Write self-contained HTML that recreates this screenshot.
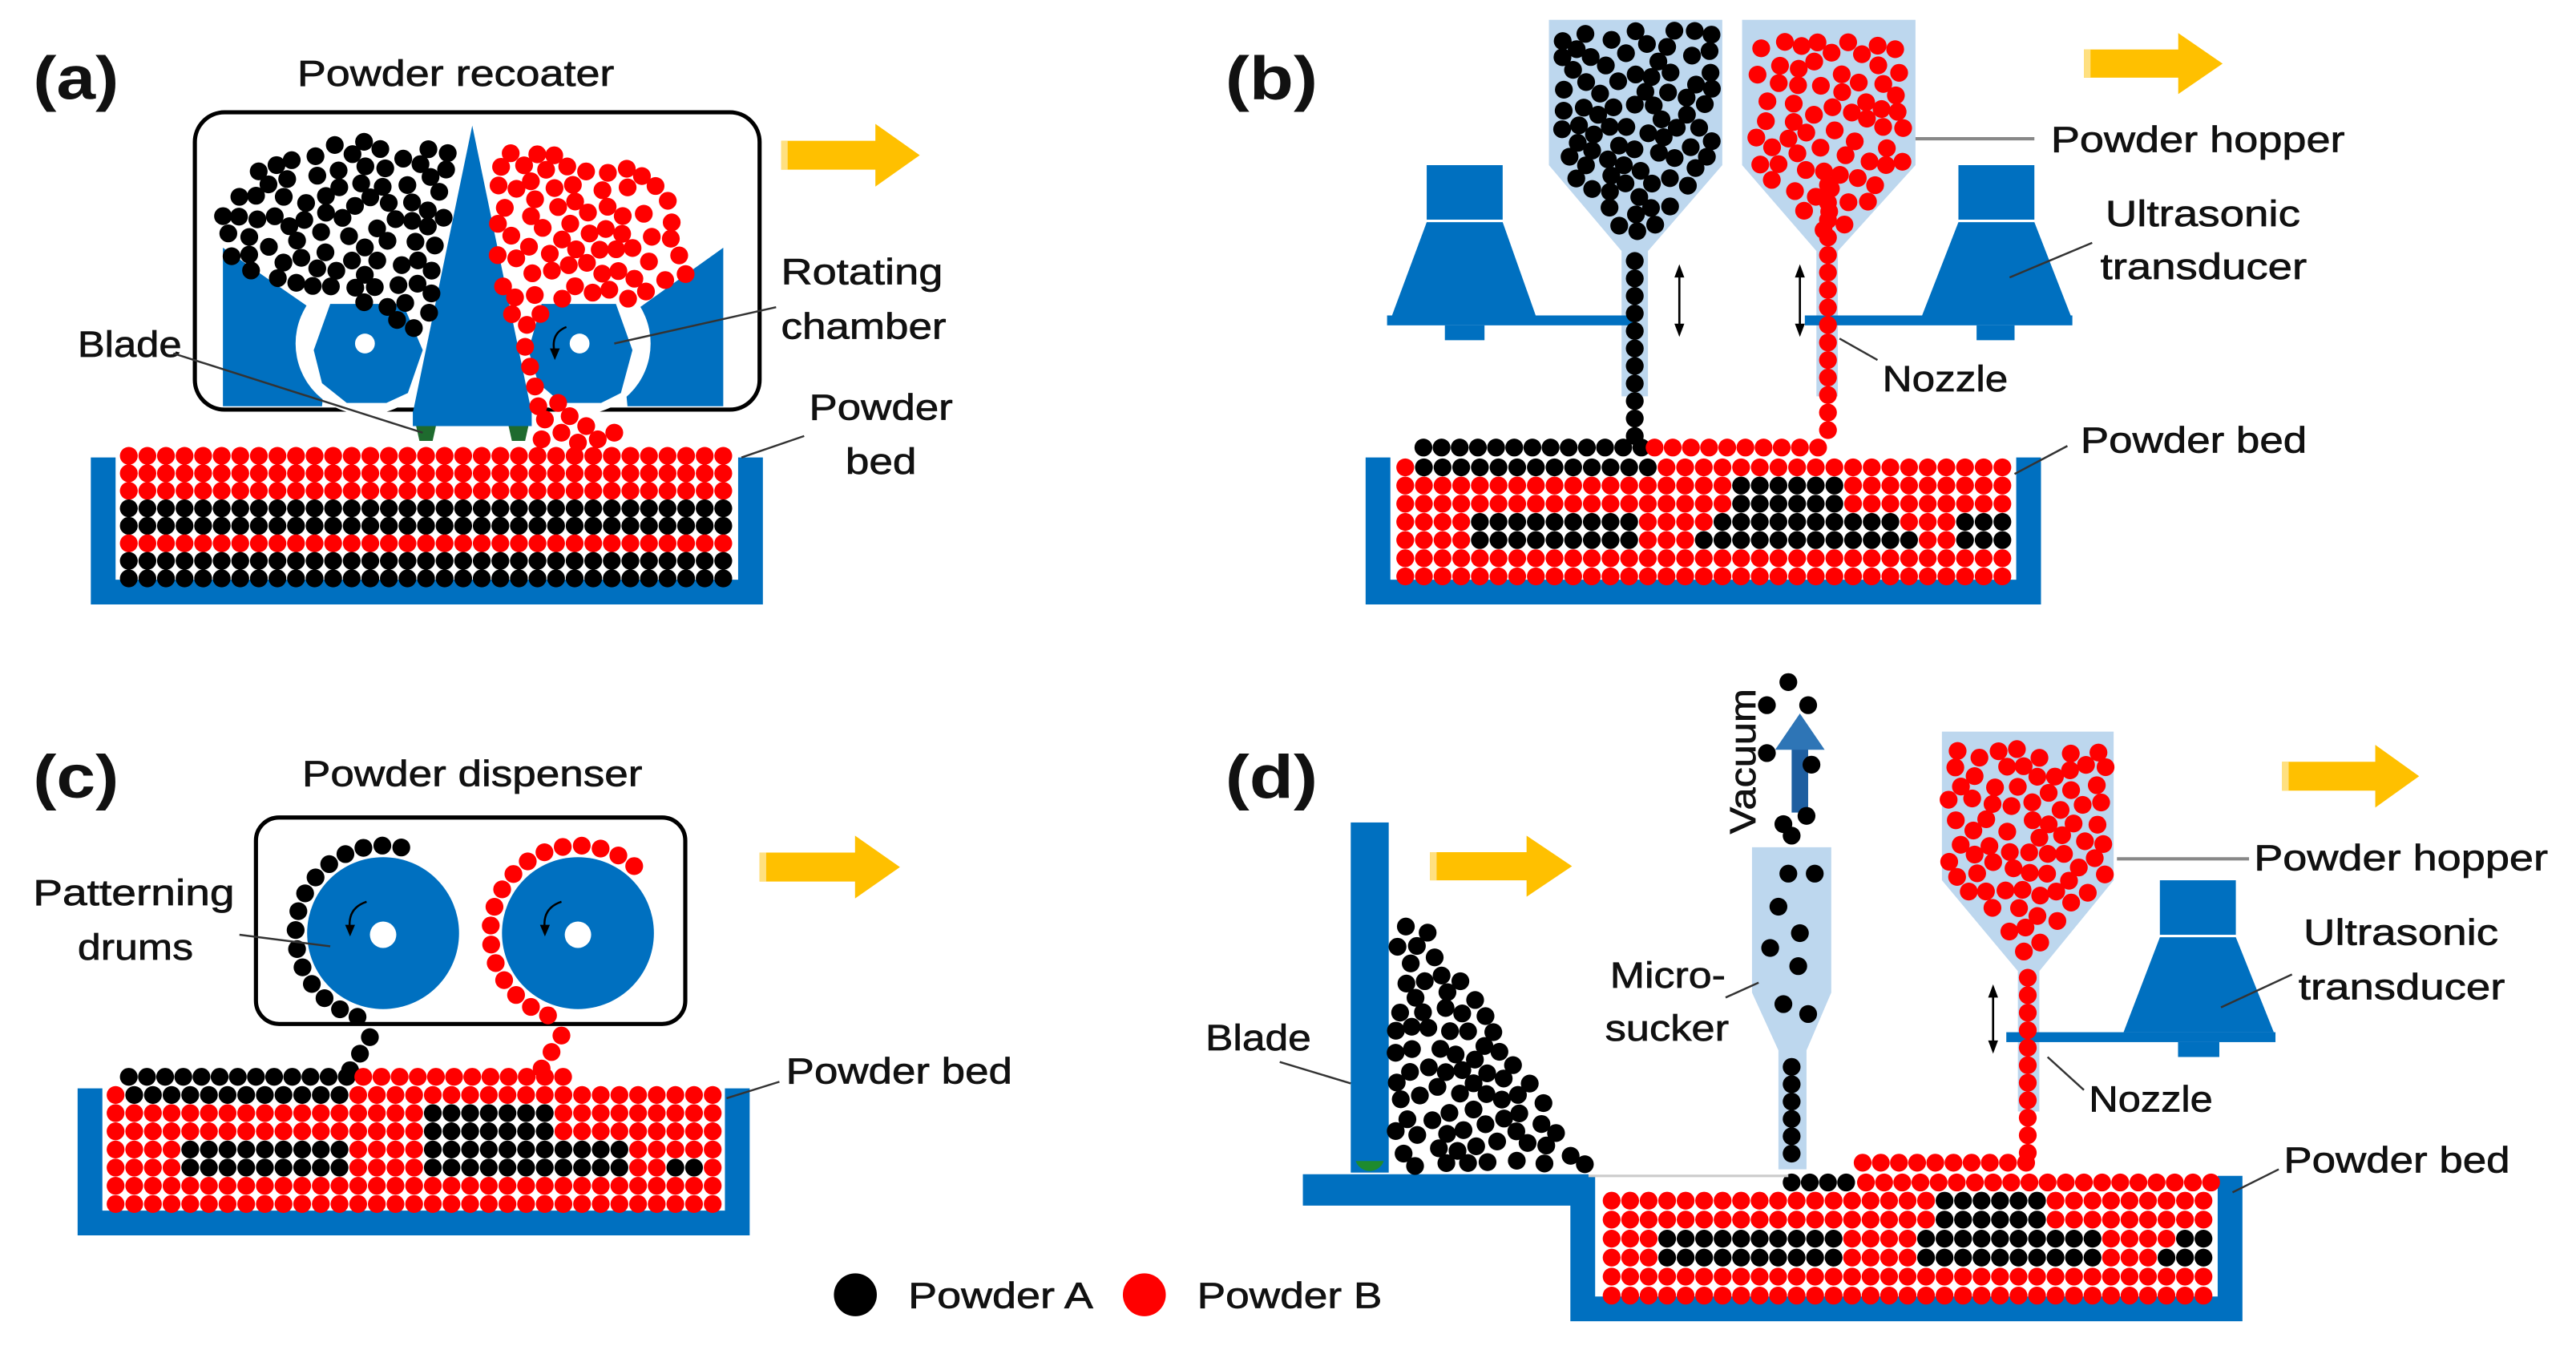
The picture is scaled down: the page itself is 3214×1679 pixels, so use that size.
<!DOCTYPE html>
<html><head><meta charset="utf-8">
<style>
html,body{margin:0;padding:0;background:#fff;}
svg{display:block;}
text{font-family:"Liberation Sans",sans-serif;fill:#111;}
.l{font-size:22px;stroke:#111;stroke-width:0.35;}
.p{font-size:37px;font-weight:bold;}
</style></head>
<body>
<svg id="s" width="3214" height="1679" viewBox="0 0 1560 815" preserveAspectRatio="none" xmlns="http://www.w3.org/2000/svg">
<rect width="1560" height="815" fill="#fff"/>
<g id="back"></g>
<g id="parts"></g>
<g id="front"></g>
</svg>
<script>
const NS="http://www.w3.org/2000/svg";
const back=document.getElementById('back'),parts=document.getElementById('parts'),front=document.getElementById('front');
function el(par,tag,attrs,txt){const e=document.createElementNS(NS,tag);for(const k in attrs)e.setAttribute(k,attrs[k]);if(txt!==undefined)e.textContent=txt;par.appendChild(e);return e;}
const BL="#0070C0",LB="#BDD7EE",RED="#FF0000",BK="#000000";
function c(x,y,col,r){el(parts,'circle',{cx:x,cy:y,r:r||5.4,fill:col==='r'?RED:(col==='k'?BK:col)});}
let seed=7;function rnd(){seed=(seed*16807)%2147483647;return seed/2147483647;}
function inPoly(x,y,p){let ins=false;for(let i=0,j=p.length-1;i<p.length;j=i++){const xi=p[i][0],yi=p[i][1],xj=p[j][0],yj=p[j][1];if(((yi>y)!=(yj>y))&&(x<(xj-xi)*(y-yi)/(yj-yi)+xi))ins=!ins;}return ins;}
function cluster(p,col,md,tries){const xs=p.map(a=>a[0]),ys=p.map(a=>a[1]);const x0=Math.min(...xs),x1=Math.max(...xs),y0=Math.min(...ys),y1=Math.max(...ys);const pts=[];for(let t=0;t<tries;t++){const x=x0+rnd()*(x1-x0),y=y0+rnd()*(y1-y0);if(!inPoly(x,y,p))continue;if(pts.some(q=>(q[0]-x)**2+(q[1]-y)**2<md*md))continue;pts.push([x,y]);c(x,y,col);}}
function poly(par,pts,fill){el(par,'polygon',{points:pts.map(p=>p.join(',')).join(' '),fill:fill});}
function line(x1,y1,x2,y2,w,col){el(front,'line',{x1,y1,x2,y2,stroke:col||'#333','stroke-width':w||1.2});}
function txt(x,y,s,len,cls,extra){const a=Object.assign({x,y,class:cls||'l'},extra||{});if(len){a.textLength=len;a.lengthAdjust='spacingAndGlyphs';}return el(front,'text',a,s);}
function orange(x,y,w,h){
 const bt=y+h*0.27,bb=y+h*0.73,hx=x+w*0.68;
 el(back,'path',{d:`M${x},${bt} H${hx} V${y} L${x+w},${y+h/2} L${hx},${y+h} V${bb} H${x} Z`,fill:'#FFC000'});
 el(back,'rect',{x:x,y:bt,width:4,height:bb-bt,fill:'#FFE080'});}
function dbl(x,y1,y2){el(front,'line',{x1:x,y1:y1+6,x2:x,y2:y2-6,stroke:'#000','stroke-width':1.3});
 poly(front,[[x,y1],[x-3,y1+8],[x+3,y1+8]],'#000');poly(front,[[x,y2],[x-3,y2-8],[x+3,y2-8]],'#000');}
function bed(x0,y0,cols,rows,dx,dy,fn){for(let j=0;j<rows;j++)for(let i=0;i<cols;i++){c(x0+i*dx,y0+j*dy,fn(i,j));}}
function container(x1,y1,x2,y2,t){el(back,'path',{d:`M${x1},${y1} H${x1+t} V${y2-t} H${x2-t} V${y1} H${x2} V${y2} H${x1} Z`,fill:BL});}

/* ===== (a) ===== */
txt(20,60,'(a)',52,'p');
txt(180,52,'Powder recoater',192);
orange(473,75,84,38);
el(back,'rect',{x:118,y:68,width:342,height:180,rx:18,fill:'none',stroke:'#000','stroke-width':2.5});
poly(back,[[135,150],[200,195],[195,246],[135,246]],BL);
poly(back,[[438,150],[375,195],[380,246],[438,246]],BL);
el(back,'circle',{cx:222,cy:208,r:43,fill:'#fff'});
el(back,'circle',{cx:351,cy:208,r:43,fill:'#fff'});
poly(back,[[200,184],[244,184],[256,212],[247,238],[234,244],[210,244],[195,232],[190,212]],BL);
poly(back,[[328,184],[373,184],[383,212],[376,238],[364,244],[340,244],[326,232],[320,212]],BL);
el(back,'circle',{cx:221,cy:208,r:6,fill:'#fff'});
el(back,'circle',{cx:351,cy:208,r:6,fill:'#fff'});
poly(back,[[286,76],[322,250],[250,250]],BL);
el(back,'rect',{x:250,y:249,width:72,height:9,fill:BL});
poly(back,[[252,258],[264,258],[262,267],[254,267]],'#1E6B2E');
poly(back,[[308,258],[320,258],[318,267],[310,267]],'#1E6B2E');
cluster([[134,128],[160,100],[212,84],[272,90],[266,198],[250,200],[210,178],[172,172],[140,160]],'k',9.6,4000);
cluster([[300,92],[345,94],[405,108],[420,165],[400,178],[385,182],[335,182],[318,200],[302,188]],'r',9.8,4000);
[[318,210],[321,222],[324,234],[326,246],[330,254],[345,252],[355,258],[340,262],[328,266],[350,268],[362,266],[372,262],[338,244]].forEach(p=>c(p[0],p[1],'r'));
el(front,'path',{d:'M343,198 Q333,202 336,214',fill:'none',stroke:'#000','stroke-width':1.2});
poly(front,[[336,218],[333,211],[339,211]],'#000');
container(55,277,462,366,15);
const ra=['r','r','r','k','k','r','k','k'];
bed(78,276,33,8,11.25,10.6,(i,j)=>ra[j]);
txt(47,216,'Blade',63);line(105,214,256,262);
txt(473,172,'Rotating',98);txt(473,205,'chamber',100);line(470,186,372,208);
txt(490,254,'Powder',87);txt(512,287,'bed',43);line(487,264,449,277);

/* ===== (b) ===== */
txt(742,60,'(b)',56,'p');
orange(1262,20,84,37);
poly(back,[[938,12],[1043,12],[1043,100],[998,152],[998,240],[982,240],[982,152],[938,100]],LB);
poly(back,[[1055,12],[1160,12],[1160,100],[1113,152],[1113,240],[1100,240],[1100,152],[1055,100]],LB);
function transducer(tx1,tx2,ty1,ty2,bx1,bx2,by,px1,px2,fx1,fx2){
 el(back,'rect',{x:tx1,y:ty1,width:tx2-tx1,height:ty2-ty1,fill:BL});
 poly(back,[[tx1,ty2+1.5],[tx2,ty2+1.5],[bx2,by],[bx1,by]],BL);
 el(back,'rect',{x:px1,y:by,width:px2-px1,height:6,fill:BL});
 el(back,'rect',{x:fx1,y:by+6,width:fx2-fx1,height:9,fill:BL});}
transducer(864,910,100,133,843,930,191,840,990,875,899);
transducer(1186,1232,100,133,1164,1254,191,1093,1255,1197,1220);
cluster([[946,18],[1037,18],[1037,98],[994,146],[986,146],[946,98]],'k',9.6,5000);
cluster([[1063,25],[1153,25],[1153,98],[1110,146],[1104,146],[1063,98]],'r',9.8,5000);
for(let y=158;y<=266;y+=10.6)c(990,y,'k');
for(let y=112;y<=266;y+=10.6)c(1107,y,'r');
dbl(1017,160,204);dbl(1090,160,204);
for(let i=0;i<13;i++)c(862+i*11,271,'k');
for(let i=0;i<10;i++)c(1002+i*11,271,'r');
bed(851,283,33,7,11.3,11,(i,j)=>{
 if(j===0&&i>=1&&i<=13)return'k';
 if((j===1||j===2)&&i>=18&&i<=23)return'k';
 if(j===3&&((i>=17&&i<=26)||i>=30))return'k';
 if(j===4&&((i>=4&&i<=12)||(i>=16&&i<=27)||i>=30))return'k';
 if(j===3&&i>=4&&i<=12)return'k';
 return'r';});
container(827,277,1236,366,15);
txt(1242,92,'Powder hopper',178);line(1160,84,1232,84,2,'#888');
txt(1275,137,'Ultrasonic',118);txt(1272,169,'transducer',125);line(1267,147,1217,168);
txt(1140,237,'Nozzle',76);line(1114,205,1137,218);
txt(1260,274,'Powder bed',137);line(1252,270,1220,287);

/* ===== (c) ===== */
txt(20,483,'(c)',52,'p');
txt(183,476,'Powder dispenser',206);
orange(460,506,85,38);
el(back,'rect',{x:155,y:495,width:260,height:125,rx:14,fill:'none',stroke:'#000','stroke-width':2.5});
el(back,'circle',{cx:232,cy:565,r:46,fill:BL});el(back,'circle',{cx:232,cy:566,r:8,fill:'#fff'});
el(back,'circle',{cx:350,cy:565,r:46,fill:BL});el(back,'circle',{cx:350,cy:566,r:8,fill:'#fff'});
for(let a=-78;a>=-262;a-=12.5){const t=a*Math.PI/180;c(232+53*Math.cos(t),565+53*Math.sin(t),'k');}
[[224,628],[218,638],[212,648]].forEach(p=>c(p[0],p[1],'k'));
for(let a=-50;a>=-250;a-=12.5){const t=a*Math.PI/180;c(350+53*Math.cos(t),565+53*Math.sin(t),'r');}
[[340,627],[334,637],[328,647]].forEach(p=>c(p[0],p[1],'r'));
el(front,'path',{d:'M222,546 Q210,550 212,563',fill:'none',stroke:'#000','stroke-width':1.2});poly(front,[[212,567],[209,560],[215,560]],'#000');
el(front,'path',{d:'M340,546 Q328,550 330,563',fill:'none',stroke:'#000','stroke-width':1.2});poly(front,[[330,567],[327,560],[333,560]],'#000');
for(let i=0;i<13;i++)c(78+i*11,652,'k');
for(let i=0;i<12;i++)c(220+i*11,652,'r');
bed(70,663,33,7,11.3,11,(i,j)=>{
 if(j===0&&i>=1&&i<=12)return'k';
 if((j===1||j===2)&&i>=17&&i<=23)return'k';
 if((j===3||j===4)&&i>=4&&i<=12)return'k';
 if((j===3||j===4)&&i>=17&&i<=27)return'k';
 if(j===4&&i>=30&&i<=31)return'k';
 return'r';});
container(47,659,454,748,15);
txt(20,548,'Patterning',122);txt(47,581,'drums',70);line(145,566,200,573);
txt(476,656,'Powder bed',137);line(472,655,440,665);

/* ===== (d) ===== */
txt(742,483,'(d)',56,'p');
orange(866,506,86,37);orange(1382,451,83,38);
el(back,'rect',{x:818,y:498,width:23,height:212,fill:BL});
el(back,'path',{d:'M821,703 A9,9 0 0 0 838,703 Z',fill:'#1E8B2E'});
el(back,'rect',{x:789,y:711,width:173,height:19,fill:BL});
line(962,712,1083,712,1.5,'#ccc');
cluster([[845,556],[860,556],[962,706],[845,706]],'k',9.6,4000);
el(back,'rect',{x:1085,y:450,width:10,height:42,fill:'#1F5FA0'});
poly(back,[[1075,454],[1090,432],[1105,454]],'#2E75B6');
[[1083,413],[1070,427],[1095,427],[1070,456],[1097,463],[1080,499],[1094,494],[1085,506]].forEach(p=>c(p[0],p[1],'k'));
el(front,'text',{x:0,y:0,class:'l',transform:'translate(1063,505) rotate(-90)',textLength:88,lengthAdjust:'spacingAndGlyphs'},'Vacuum');
poly(back,[[1061,513],[1109,513],[1109,601],[1094,636],[1094,708],[1077,708],[1077,636],[1061,601]],LB);
[[1083,529],[1099,529],[1077,549],[1090,565],[1072,574],[1089,585],[1080,608],[1095,614]].forEach(p=>c(p[0],p[1],'k'));
for(let y=646;y<=708;y+=10.5)c(1085,y,'k');
poly(back,[[1176,443],[1280,443],[1280,533],[1235,588],[1235,673],[1222,673],[1222,588],[1176,533]],LB);
cluster([[1180,452],[1275,452],[1276,530],[1235,580],[1222,580],[1180,530]],'r',9.8,5000);
for(let y=592;y<=704;y+=10.6)c(1228,y,'r');
transducer(1308,1354,533,566,1286,1377,625,1215,1378,1319,1344);
dbl(1207,596,638);
for(let i=0;i<10;i++)c(1128+i*11,704,'r');
for(let i=0;i<4;i++)c(1085+i*11,716,'k');
for(let i=0;i<20;i++)c(1130+i*11,716,'r');
bed(976,727,33,6,11.2,11.5,(i,j)=>{
 if((j===0||j===1)&&i>=18&&i<=23)return'k';
 if((j===2||j===3)&&i>=3&&i<=12)return'k';
 if((j===2||j===3)&&i>=17&&i<=26)return'k';
 if(j===2&&i>=29&&i<=30)return'r';
 if((j===2||j===3)&&i>=30)return'k';
 return'r';});
container(951,712,1358,800,15);
txt(1365,527,'Powder hopper',178);line(1282,520,1362,520,2,'#888');
txt(1395,572,'Ultrasonic',118);txt(1392,605,'transducer',125);line(1388,590,1345,610);
txt(975,598,'Micro-',70);txt(972,630,'sucker',75);line(1045,604,1065,595);
txt(730,636,'Blade',64);line(775,643,818,656);
txt(1265,673,'Nozzle',75);line(1262,660,1240,640);
txt(1383,710,'Powder bed',137);line(1380,708,1352,722);

el(front,'circle',{cx:518,cy:784,r:13,fill:BK});txt(550,792,'Powder A',112);
el(front,'circle',{cx:693,cy:784,r:13,fill:RED});txt(725,792,'Powder B',112);
</script>
</body></html>
